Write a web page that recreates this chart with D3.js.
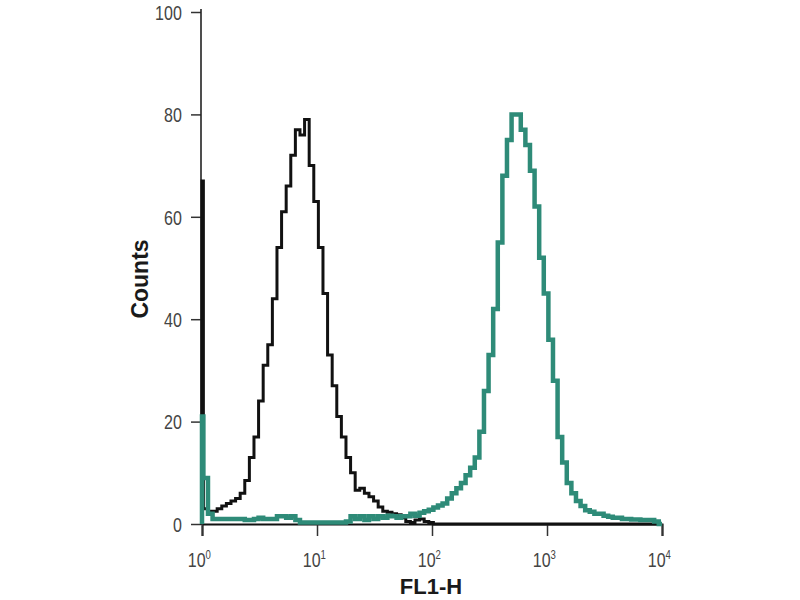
<!DOCTYPE html>
<html>
<head>
<meta charset="utf-8">
<script src="https://cdn.jsdelivr.net/npm/d3@7"></script>
<style>
  body { margin: 0; background: #fff; }
  svg { display: block; }
</style>
</head>
<body>
<svg width="800" height="600"></svg>
<script>
// histogram bins, log10 channel positions (decades)
// bin 0 is the pile-up channel at 10^0, the rest are regular bins
var spikeWidth = 0.012
var binWidth = 0.04

// isotype / unstained control (black)
var controlCounts = [67,
    3, 2.5, 2.5, 3, 3.5, 4, 4.5, 5, 6, 8.5,
    13, 17, 24, 31, 35, 44, 54, 61, 66, 72,
    77, 76, 79, 70, 63, 54, 45, 33, 27, 21,
    17, 13, 10, 6.6, 7, 6, 5.3, 4.5, 3.3, 2.5,
    2.3, 2, 1.8, 1.2, 0.5, 0.3, 0.8, 1, 0.5, 0.3,
    0, 0, 0, 0, 0, 0, 0, 0, 0, 0,
    0, 0, 0, 0, 0, 0, 0, 0, 0, 0,
    0, 0, 0, 0, 0, 0, 0, 0, 0, 0,
    0, 0, 0, 0, 0, 0, 0, 0, 0, 0,
    0, 0, 0, 0, 0, 0, 0, 0, 0]

// stained sample (teal)
var stainedCounts = [21,
    9, 2, 1, 1, 1, 1, 1, 1, 1, 0.8,
    0.8, 1, 1.2, 1, 1, 1, 1.5, 1.5, 1.2, 1.5,
    0.8, 0.3, 0.3, 0.3, 0.3, 0.3, 0.3, 0.3, 0.3, 0.3,
    0.3, 0.5, 1.5, 1, 1.5, 0.8, 1.5, 1, 1.5, 1.2,
    1.6, 1.5, 1.2, 1.5, 1.5, 2, 1.6, 2.2, 2.5, 2.8,
    3.2, 3.6, 4, 5, 6, 7, 8, 9.5, 11, 13,
    18, 26, 33, 42, 55, 68, 75, 80, 80, 77,
    74, 69, 62, 52, 45, 36, 28, 17, 12, 8,
    6, 4.5, 3.5, 2.7, 2.4, 2, 2, 1.6, 1.4, 1.2,
    1.2, 1, 1, 0.9, 0.9, 0.8, 0.8, 0.8, 0.5]

var xTicks = [1, 10, 100, 1000, 10000]
var xExponents = ['0', '1', '2', '3', '4']
var yTicks = [0, 20, 40, 60, 80, 100]

var svg = d3.select('svg')

var x = d3.scaleLog()
    .domain([1, 10000])
    .range([202, 662])
var y = d3.scaleLinear()
    .domain([0, 100])
    .range([524, 12])

// bin start position (decades) for bin i
function binStart(i) {
    if (i === 0) return 0
    return spikeWidth + (i - 1) * binWidth
}

function toSteps(counts) {
    var pts = [[0, 0]]
    counts.forEach(function(c, i) {
        pts.push([binStart(i), c])
    })
    var last = binStart(counts.length)
    pts.push([last, counts[counts.length - 1]])
    pts.push([last, 0])
    pts.push([4, 0])
    return pts
}

var line = d3.line()
    .x(function(d) { return x(Math.pow(10, d[0])) })
    .y(function(d) { return y(d[1]) })
    .curve(d3.curveStepAfter)

// axes
var yAxis = d3.axisLeft(y)
    .tickValues(yTicks)
    .tickSize(10)
    .tickPadding(14)
    .tickFormat(d3.format('d'))

var gy = svg.append('g')
    .attr('transform', 'translate(201,0)')
    .call(yAxis)
gy.select('.domain').remove()
gy.selectAll('line').attr('stroke', '#333').attr('stroke-width', 1.5)
gy.selectAll('text')
    .attr('fill', '#444')
    .style('font-family', 'Liberation Sans, Arial, sans-serif')
    .style('font-size', '20px')
    .attr('transform', 'scale(0.8,1)')
    .attr('dy', '0.36em')

svg.append('line')
    .attr('x1', 201).attr('x2', 201)
    .attr('y1', 9).attr('y2', 525)
    .attr('stroke', '#222')
    .attr('stroke-width', 1.6)

var xAxis = d3.axisBottom(x)
    .tickValues(xTicks)
    .tickSize(12)
    .tickFormat('')

var gx = svg.append('g')
    .attr('transform', 'translate(0,524)')
    .call(xAxis)
gx.select('.domain').attr('stroke', '#111').attr('stroke-width', 2)
gx.selectAll('line').attr('stroke', '#333').attr('stroke-width', 1.5)

var xLabels = gx.selectAll('.tick').append('text')
    .attr('x', -4)
    .attr('y', 43)
    .attr('fill', '#444')
    .attr('text-anchor', 'middle')
    .style('font-family', 'Liberation Sans, Arial, sans-serif')
    .style('font-size', '20px')
    .attr('transform', 'scale(0.8,1)')
xLabels.append('tspan').text('10')
xLabels.append('tspan')
    .attr('dy', -8)
    .style('font-size', '12px')
    .text(function(d, i) { return xExponents[i] })

// histograms
svg.append('path')
    .datum(toSteps(controlCounts))
    .attr('d', line)
    .attr('fill', 'none')
    .attr('stroke', '#111')
    .attr('stroke-width', 3)
    .attr('stroke-linejoin', 'miter')

svg.append('path')
    .datum(toSteps(stainedCounts))
    .attr('d', line)
    .attr('fill', 'none')
    .attr('stroke', '#2e8b78')
    .attr('stroke-width', 4.5)
    .attr('stroke-linejoin', 'miter')

// axis titles
svg.append('text')
    .attr('transform', 'translate(148,279) rotate(-90)')
    .attr('text-anchor', 'middle')
    .attr('fill', '#1a1a1a')
    .style('font-family', 'Liberation Sans, Arial, sans-serif')
    .style('font-weight', 'bold')
    .style('font-size', '23px')
    .text('Counts')

svg.append('text')
    .attr('x', 431)
    .attr('y', 594)
    .attr('text-anchor', 'middle')
    .attr('fill', '#1a1a1a')
    .style('font-family', 'Liberation Sans, Arial, sans-serif')
    .style('font-weight', 'bold')
    .style('font-size', '22px')
    .text('FL1-H')
</script>
</body>
</html>
